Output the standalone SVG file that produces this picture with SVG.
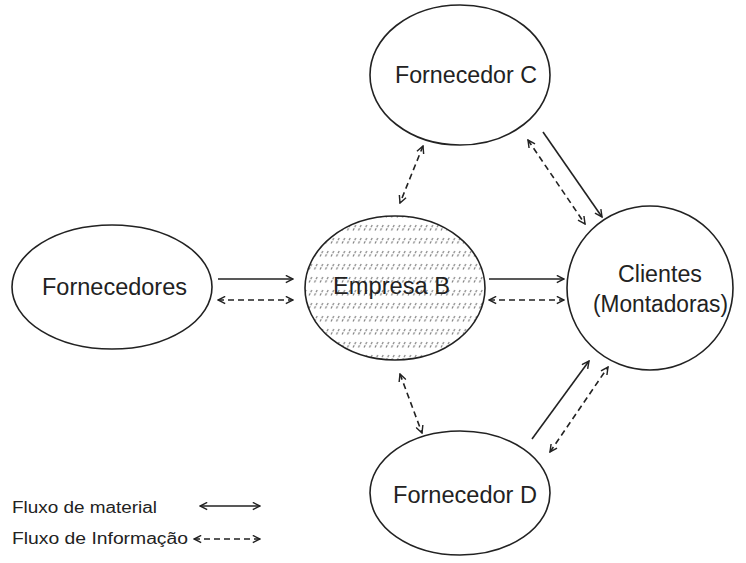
<svg xmlns="http://www.w3.org/2000/svg" width="746" height="563" viewBox="0 0 746 563">
  <defs>
    <style>
      .node { fill: #fff; stroke: #222; stroke-width: 1.6; }
      .label { font-family: "Liberation Sans", Arial, sans-serif; font-size: 23px; fill: #222; }
      .legend { font-family: "Liberation Sans", Arial, sans-serif; font-size: 16px; fill: #222; }
      .mat { fill: none; stroke: #222; stroke-width: 1.6; }
      .info { fill: none; stroke: #222; stroke-width: 1.6; stroke-dasharray: 6 4; }
    </style>
    <marker id="head" viewBox="0 0 10 10" refX="9" refY="5" markerWidth="9" markerHeight="9" markerUnits="userSpaceOnUse" orient="auto-start-reverse">
      <path d="M1,1 L9,5 L1,9" fill="none" stroke="#222" stroke-width="1.6"/>
    </marker>
    <!-- rows of short slanted ticks -->
    <pattern id="hatch" width="5.5" height="13" patternUnits="userSpaceOnUse">
      <line x1="1" y1="9.5" x2="4" y2="3.5" stroke="#777" stroke-width="1.1" stroke-dasharray="2.5 1.2"/>
    </pattern>
    <clipPath id="clipB">
      <ellipse cx="395" cy="288" rx="90" ry="72"/>
    </clipPath>
  </defs>

  <g id="fornecedores">
    <ellipse class="node" cx="112" cy="287" rx="100" ry="62"/>
    <text class="label" x="42" y="295" textLength="145" lengthAdjust="spacingAndGlyphs">Fornecedores</text>
  </g>

  <g id="empresa-b">
    <ellipse cx="395" cy="288" rx="90" ry="72" fill="#fff"/>
    <rect x="305" y="216" width="180" height="144" fill="url(#hatch)" clip-path="url(#clipB)"/>
    <ellipse cx="395" cy="288" rx="90" ry="72" fill="none" stroke="#222" stroke-width="1.6"/>
    <text class="label" x="333" y="294" textLength="117" lengthAdjust="spacingAndGlyphs">Empresa B</text>
  </g>

  <g id="fornecedor-c">
    <ellipse class="node" cx="460" cy="75" rx="90" ry="70"/>
    <text class="label" x="395" y="83" textLength="142" lengthAdjust="spacingAndGlyphs">Fornecedor C</text>
  </g>

  <g id="clientes">
    <ellipse class="node" cx="650" cy="288" rx="83" ry="82"/>
    <text class="label" x="618" y="282" textLength="84" lengthAdjust="spacingAndGlyphs">Clientes</text>
    <text class="label" x="593" y="312" textLength="135" lengthAdjust="spacingAndGlyphs">(Montadoras)</text>
  </g>

  <g id="fornecedor-d">
    <ellipse class="node" cx="460" cy="493" rx="90" ry="62"/>
    <text class="label" x="393" y="503" textLength="144" lengthAdjust="spacingAndGlyphs">Fornecedor D</text>
  </g>

  <g id="connectors">
    <!-- Fornecedores / Empresa B -->
    <line class="mat" x1="218" y1="279" x2="293" y2="279" marker-end="url(#head)"/>
    <line class="info" x1="218" y1="300" x2="293" y2="300" marker-start="url(#head)" marker-end="url(#head)"/>
    <!-- Empresa B / Clientes -->
    <line class="mat" x1="489" y1="279" x2="564" y2="279" marker-end="url(#head)"/>
    <line class="info" x1="489" y1="300" x2="564" y2="300" marker-start="url(#head)" marker-end="url(#head)"/>
    <!-- Empresa B / Fornecedor C -->
    <line class="info" x1="423" y1="146" x2="400" y2="203" marker-start="url(#head)" marker-end="url(#head)"/>
    <!-- Fornecedor C / Clientes -->
    <line class="mat" x1="543" y1="132" x2="602" y2="217" marker-end="url(#head)"/>
    <line class="info" x1="528" y1="140" x2="585" y2="224" marker-start="url(#head)" marker-end="url(#head)"/>
    <!-- Empresa B / Fornecedor D -->
    <line class="info" x1="400" y1="374" x2="422" y2="433" marker-start="url(#head)" marker-end="url(#head)"/>
    <!-- Fornecedor D / Clientes -->
    <line class="mat" x1="532" y1="439" x2="589" y2="361" marker-end="url(#head)"/>
    <line class="info" x1="550" y1="452" x2="608" y2="367" marker-start="url(#head)" marker-end="url(#head)"/>
  </g>

  <g id="legend">
    <text class="legend" x="12" y="513" textLength="145" lengthAdjust="spacingAndGlyphs">Fluxo de material</text>
    <text class="legend" x="12" y="544" textLength="176" lengthAdjust="spacingAndGlyphs">Fluxo de Informação</text>
    <line class="mat" x1="200" y1="506" x2="260" y2="506" marker-start="url(#head)" marker-end="url(#head)"/>
    <line class="info" x1="194" y1="539" x2="260" y2="539" marker-start="url(#head)" marker-end="url(#head)"/>
  </g>
</svg>
